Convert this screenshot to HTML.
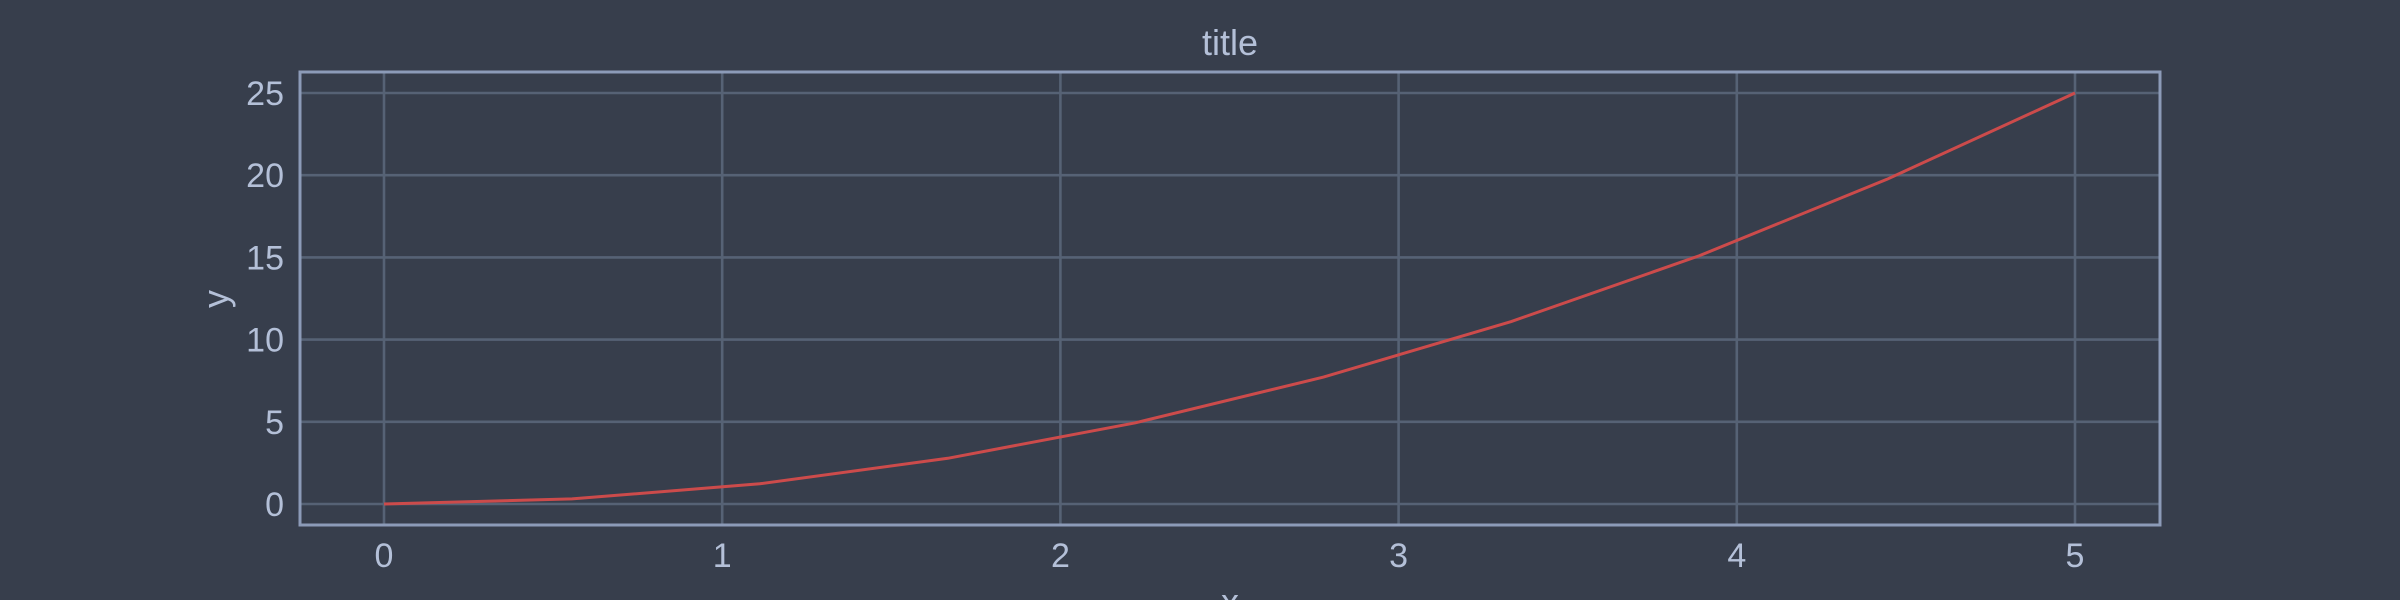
<!DOCTYPE html>
<html><head><meta charset="utf-8"><style>
html,body{margin:0;padding:0;background:#373e4c;}
svg{display:block;font-family:"Liberation Sans",sans-serif;}
</style></head><body>
<svg id="chart" width="2400" height="600" viewBox="0 0 2400 600">
<rect width="2400" height="600" fill="#373e4c"/>
<g id="grid"></g>
<g id="ticks"></g>
<path id="line" fill="none" stroke="#cc4b4b" stroke-width="3"/>
<rect x="300" y="72" width="1860" height="453" fill="none" stroke="#8c9bb8" stroke-width="3"/>
<text x="1230" y="55" text-anchor="middle" font-size="36" fill="#b4c0d8">title</text>
<text x="0" y="0" transform="translate(228,299) rotate(-90)" text-anchor="middle" font-size="36" fill="#b4c0d8">y</text>
<text x="1230" y="614" text-anchor="middle" font-size="36" fill="#b4c0d8">x</text>
</svg>
<script>
const xValues=[0,0.556,1.111,1.667,2.222,2.778,3.333,3.889,4.444,5];
const yValues=[0,0.31,1.23,2.78,4.94,7.72,11.1,15.1,19.75,25];
const xTicks=[0,1,2,3,4,5];
const yTicks=[0,5,10,15,20,25];
const NS="http://www.w3.org/2000/svg";
function sx(v){return 384+(2075-384)*v/5;}
function sy(v){return 504-(504-93)*v/25;}
const grid=document.getElementById('grid'),ticks=document.getElementById('ticks');
xTicks.forEach(t=>{
  const l=document.createElementNS(NS,'line');
  l.setAttribute('x1',sx(t));l.setAttribute('x2',sx(t));l.setAttribute('y1',72);l.setAttribute('y2',525);
  l.setAttribute('stroke','#566275');l.setAttribute('stroke-width','2.6');
  
  
  grid.appendChild(l);
  const tx=document.createElementNS(NS,'text');
  tx.setAttribute('x',sx(t));tx.setAttribute('y',567);tx.setAttribute('text-anchor','middle');
  tx.setAttribute('font-size','34');tx.setAttribute('fill','#b4c0d8');tx.textContent=t;
  
  
  ticks.appendChild(tx);
});
yTicks.forEach(t=>{
  const l=document.createElementNS(NS,'line');
  l.setAttribute('x1',300);l.setAttribute('x2',2160);l.setAttribute('y1',sy(t));l.setAttribute('y2',sy(t));
  l.setAttribute('stroke','#566275');l.setAttribute('stroke-width','2.6');
  
  
  grid.appendChild(l);
  const tx=document.createElementNS(NS,'text');
  tx.setAttribute('x',284);tx.setAttribute('y',sy(t)+12);tx.setAttribute('text-anchor','end');
  tx.setAttribute('font-size','34');tx.setAttribute('fill','#b4c0d8');tx.textContent=t;
  
  
  ticks.appendChild(tx);
});
document.getElementById('line').setAttribute('d',xValues.map((x,i)=>(i?'L':'M')+sx(x)+','+sy(yValues[i])).join(' '));
</script>
</body></html>
